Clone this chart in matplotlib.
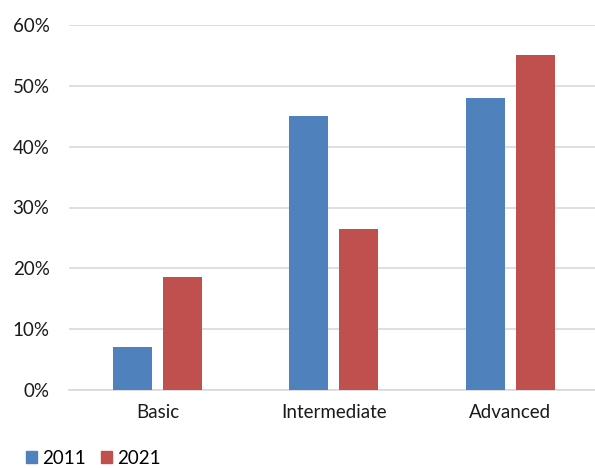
import matplotlib
matplotlib.use("Agg")
import matplotlib.pyplot as plt
from matplotlib.patches import Patch
import numpy as np

plt.rcParams['font.family'] = ['Lato', 'DejaVu Sans']

categories = ["Basic", "Intermediate", "Advanced"]
series_names = ["2011", "2021"]
values_2011 = [7, 45, 48]
values_2021 = [18.5, 26.5, 55]
y_ticks = [0, 10, 20, 30, 40, 50, 60]
colors = ["#4F81BD", "#C0504D"]

W, H = 595, 468
fig = plt.figure(figsize=(W / 100, H / 100), dpi=100)
ax = fig.add_axes([69 / W, (H - 390) / H, (595 - 69) / W, (390 - 25) / H])

x = np.arange(len(categories))
bw = 0.221
off = 0.1416
ax.bar(x - off, values_2011, bw, color=colors[0], zorder=3)
ax.bar(x + off, values_2021, bw, color=colors[1], zorder=3)

ax.set_xlim(-0.5014, 2.479)
ax.set_ylim(0, 60)
ax.set_yticks(y_ticks)
ax.set_yticklabels([f"{t}%" for t in y_ticks], fontsize=13.5, color="#1a1a1a")
ax.set_xticks(x)
ax.set_xticklabels(categories, fontsize=13.5, color="#1a1a1a")
ax.tick_params(axis='both', length=0)
ax.tick_params(axis='y', pad=14)
ax.tick_params(axis='x', pad=10)
ax.grid(axis='y', color="#D9D9D9", linewidth=1.2, zorder=0)
for s in ["top", "right", "left"]:
    ax.spines[s].set_visible(False)
ax.spines["bottom"].set_color("#D9D9D9")
ax.spines["bottom"].set_linewidth(1.2)

handles = [Patch(color=c, label=n) for c, n in zip(colors, series_names)]
fig.legend(handles=handles, loc="lower left", bbox_to_anchor=(26 / W, 1 / H),
           ncol=2, frameon=False, fontsize=13.5, handlelength=0.6, handleheight=0.6,
           handletextpad=0.25, columnspacing=0.8, borderpad=0, borderaxespad=0)

fig.savefig("out.png", dpi=100)
